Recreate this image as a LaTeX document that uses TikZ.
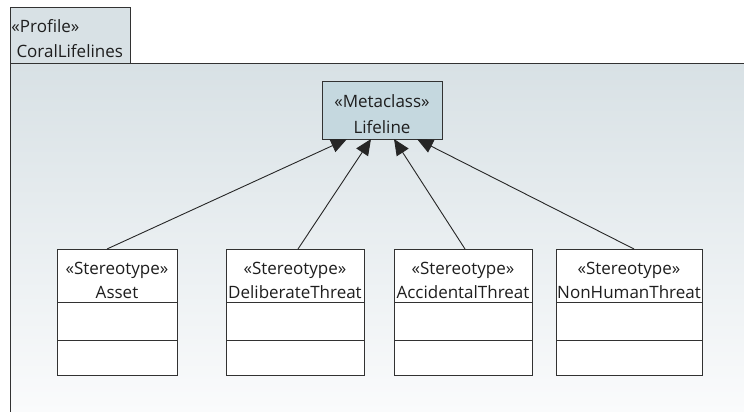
\documentclass[tikz,border=0pt]{standalone}
\usepackage{fontspec}
\setmainfont{Open Sans}
\usetikzlibrary{arrows.meta}
\definecolor{pkgFill}{RGB}{216,225,229}
\definecolor{pkgLight}{RGB}{250,251,252}
\definecolor{metaFill}{RGB}{197,216,223}
\definecolor{umlLine}{RGB}{50,50,50}
\definecolor{umlText}{RGB}{30,30,30}
\newcommand{\stereo}[1]{«#1»}

\begin{document}
\begin{tikzpicture}[x=1pt, y=-1pt, line width=1pt]
  \tikzset{
    every node/.style={font=\fontsize{17}{24}\selectfont, text=umlText},
    classBox/.style={draw=umlLine, fill=white, inner sep=0pt, outer sep=0pt},
    classText/.style={anchor=north, inner sep=0pt, align=center},
    genArrow/.style={draw=black!85, line width=0.9pt, -{Triangle[length=16pt,width=14pt]}}
  }
  \useasboundingbox (0,0) rectangle (744,412);
  % package
  \fill[top color=pkgFill, bottom color=pkgLight] (10,64) rectangle (744,412);
  \draw[umlLine, fill=pkgFill] (10,64) -- (10,8) -- (130,8) -- (130,64);
  \draw[umlLine] (744,64) -- (10,64) -- (10,412);
  \node[anchor=base west, inner sep=0pt] (Profile-1) at (11,33) {\stereo{Profile}};
  \node[anchor=base west, inner sep=0pt] (Profile-2) at (16,58) {CoralLifelines};
  % metaclass
  \node[classBox, fill=metaFill, minimum width=120pt, minimum height=58pt] (Lifeline) at (382,110) {};
  \node[classText] (Lifeline-t) at ([yshift=-13pt]Lifeline.north) {\stereo{Metaclass}\\[2pt]Lifeline};
  % stereotypes
  \node[classBox, minimum width=120pt, minimum height=53pt] (Asset) at (117,275.5) {};
  \node[classText] (Asset-t) at ([yshift=-12.9pt]Asset.north) {\stereo{Stereotype}\\Asset};
  \node[classBox, minimum width=120pt, minimum height=38pt, anchor=north] (Asset-1) at (Asset.south) {};
  \node[classBox, minimum width=120pt, minimum height=35pt, anchor=north] (Asset-2) at (Asset-1.south) {};

  \node[classBox, minimum width=138pt, minimum height=53pt] (Deliberate) at (295,275.5) {};
  \node[classText] (Deliberate-t) at ([yshift=-12.9pt]Deliberate.north) {\stereo{Stereotype}\\DeliberateThreat};
  \node[classBox, minimum width=138pt, minimum height=38pt, anchor=north] (Deliberate-1) at (Deliberate.south) {};
  \node[classBox, minimum width=138pt, minimum height=35pt, anchor=north] (Deliberate-2) at (Deliberate-1.south) {};

  \node[classBox, minimum width=138pt, minimum height=53pt] (Accidental) at (463,275.5) {};
  \node[classText] (Accidental-t) at ([yshift=-12.9pt]Accidental.north) {\stereo{Stereotype}\\AccidentalThreat};
  \node[classBox, minimum width=138pt, minimum height=38pt, anchor=north] (Accidental-1) at (Accidental.south) {};
  \node[classBox, minimum width=138pt, minimum height=35pt, anchor=north] (Accidental-2) at (Accidental-1.south) {};

  \node[classBox, minimum width=146pt, minimum height=53pt] (NonHuman) at (629,275.5) {};
  \node[classText] (NonHuman-t) at ([yshift=-12.9pt]NonHuman.north) {\stereo{Stereotype}\\NonHumanThreat};
  \node[classBox, minimum width=146pt, minimum height=38pt, anchor=north] (NonHuman-1) at (NonHuman.south) {};
  \node[classBox, minimum width=146pt, minimum height=35pt, anchor=north] (NonHuman-2) at (NonHuman-1.south) {};
  % generalizations
  \draw[genArrow] ([xshift=-10pt]Asset.north) -- ([xshift=-35pt]Lifeline.south);
  \draw[genArrow] ([xshift=3pt]Deliberate.north) -- ([xshift=-11pt]Lifeline.south);
  \draw[genArrow] ([xshift=2pt]Accidental.north) -- ([xshift=12pt]Lifeline.south);
  \draw[genArrow] ([xshift=5pt]NonHuman.north) -- ([xshift=35pt]Lifeline.south);
\end{tikzpicture}
\end{document}
